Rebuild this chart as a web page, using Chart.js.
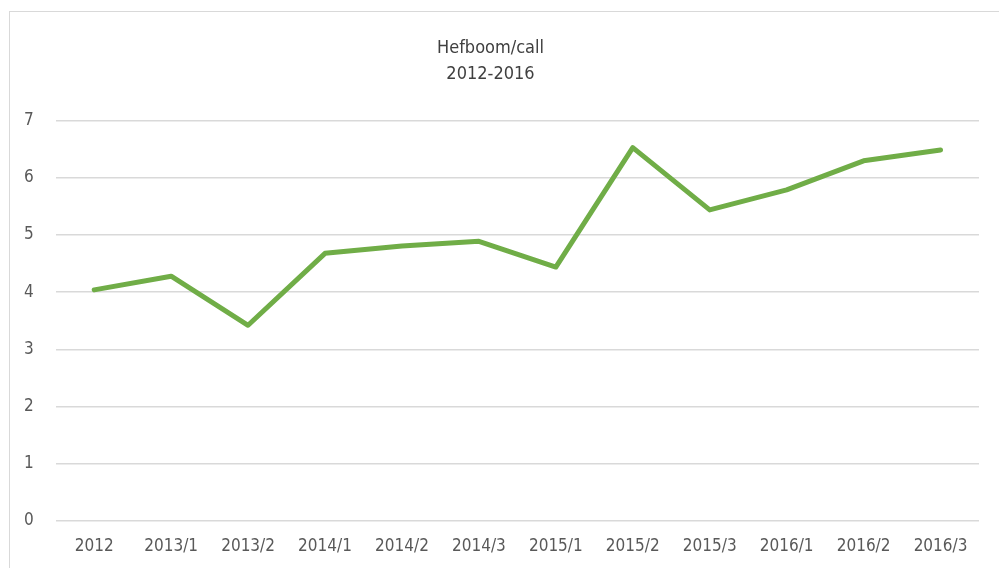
<!DOCTYPE html>
<html>
<head>
<meta charset="utf-8">
<script src="https://cdn.jsdelivr.net/npm/chart.js@4/dist/chart.umd.min.js"></script>
<style>
  html, body { margin: 0; padding: 0; background: #fff; overflow: hidden; }
  #wrap { position: relative; width: 999px; height: 568px; }
  #frame { position: absolute; left: 9px; top: 11px; width: 1100px; height: 700px; border: 1px solid #d9d9d9; box-sizing: border-box; }
  canvas { position: absolute; left: 0; top: 0; }
</style>
</head>
<body>
<div id="wrap">
  <div id="frame"></div>
  <canvas id="grafico" width="999" height="568"></canvas>
</div>
<script>
const periodos = ["2012", "2013/1", "2013/2", "2014/1", "2014/2", "2014/3", "2015/1", "2015/2", "2015/3", "2016/1", "2016/2", "2016/3"];
const hefboom = [4.04, 4.28, 3.42, 4.68, 4.81, 4.89, 4.44, 6.53, 5.44, 5.79, 6.30, 6.49];
const titulo = ["Hefboom/call", "2012-2016"];

const fuente = "'Liberation Sans Narrow', 'DejaVu Sans Condensed', sans-serif";

function crearGrafico() {
  const ctx = document.getElementById("grafico");

  new Chart(ctx, {
    type: "line",
    data: {
      labels: periodos,
      datasets: [
        {
          label: "Hefboom/call",
          data: hefboom,
          borderColor: "#70AD47",
          borderWidth: 5,
          borderJoinStyle: "round",
          borderCapStyle: "round",
          pointRadius: 0,
          tension: 0,
          fill: false,
        },
      ],
    },
    options: {
      responsive: false,
      animation: false,
      layout: {
        padding: { left: 2, right: 20, top: 20, bottom: -5 },
      },
      plugins: {
        legend: { display: false },
        tooltip: { enabled: false },
        title: {
          display: true,
          text: titulo,
          color: "#404040",
          font: { family: fuente, size: 18, weight: "normal", lineHeight: 1.44 },
          padding: { top: 15, bottom: 34 },
        },
      },
      scales: {
        x: {
          offset: true,
          grid: { display: false, drawTicks: false },
          border: { display: false },
          ticks: {
            color: "#595959",
            font: { family: fuente, size: 17 },
            padding: 16,
            maxRotation: 0,
            autoSkip: false,
          },
        },
        y: {
          min: 0,
          max: 7,
          grid: { color: "#d9d9d9", lineWidth: 1.5, drawTicks: false },
          border: { display: false },
          ticks: {
            stepSize: 1,
            color: "#595959",
            font: { family: fuente, size: 17 },
            padding: 22,
          },
        },
      },
    },
  });
}

crearGrafico();
</script>
</body>
</html>
